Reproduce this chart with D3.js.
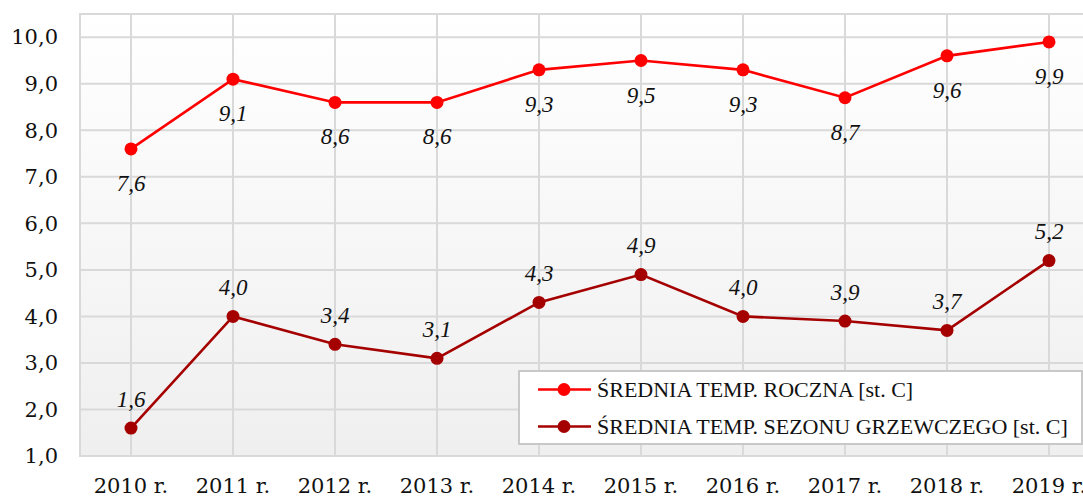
<!DOCTYPE html>
<html>
<head>
<meta charset="utf-8">
<script src="https://cdn.jsdelivr.net/npm/d3@7"></script>
<style>
  body { margin: 0; background: #fff; }
  svg text { font-family: "DejaVu Serif", serif; fill: #111; }
  svg text.lbl, svg text.leg { font-family: "Liberation Serif", serif; }
</style>
</head>
<body>
<div id="chart"></div>
<script>
const years = ['2010 r.', '2011 r.', '2012 r.', '2013 r.', '2014 r.', '2015 r.', '2016 r.', '2017 r.', '2018 r.', '2019 r.']
const annualTemp = [7.6, 9.1, 8.6, 8.6, 9.3, 9.5, 9.3, 8.7, 9.6, 9.9]
const heatingTemp = [1.6, 4.0, 3.4, 3.1, 4.3, 4.9, 4.0, 3.9, 3.7, 5.2]
const yTicks = [1, 2, 3, 4, 5, 6, 7, 8, 9, 10]
const seriesNames = ['ŚREDNIA TEMP. ROCZNA [st. C]', 'ŚREDNIA TEMP. SEZONU GRZEWCZEGO [st. C]']

const width = 1083, height = 498
const plotLeft = 80, plotTop = 14, plotBottom = 456, plotRight = 1100

let svg = d3.select('#chart').append('svg')
  .attr('width', width)
  .attr('height', height)

// plot background gradient
let grad = svg.append('defs').append('linearGradient')
  .attr('id', 'bg')
  .attr('x1', 0).attr('y1', 0).attr('x2', 0).attr('y2', 1)
grad.append('stop').attr('offset', '0%').attr('stop-color', '#ffffff')
grad.append('stop').attr('offset', '100%').attr('stop-color', '#efefef')

let x = d3.scaleBand().domain(years).range([plotLeft, plotRight])
let y = d3.scaleLinear().domain([1, 10.5]).range([plotBottom, plotTop])
let cx = d => x(d) + x.bandwidth() / 2

svg.append('rect')
  .attr('x', plotLeft).attr('y', plotTop)
  .attr('width', plotRight - plotLeft).attr('height', plotBottom - plotTop)
  .attr('fill', 'url(#bg)')

// gridlines
let grid = svg.append('g').attr('stroke', '#d9d9d9').attr('stroke-width', 2)
grid.selectAll('line.h')
  .data(yTicks.concat([10.5]))
  .enter().append('line')
  .attr('x1', plotLeft).attr('x2', plotRight)
  .attr('y1', d => y(d)).attr('y2', d => y(d))
grid.selectAll('line.v')
  .data(years)
  .enter().append('line')
  .attr('x1', d => cx(d)).attr('x2', d => cx(d))
  .attr('y1', plotTop).attr('y2', plotBottom)
grid.append('line')
  .attr('x1', plotLeft).attr('x2', plotLeft)
  .attr('y1', plotTop - 1).attr('y2', plotBottom + 1)

const fmt = v => d3.format('.1f')(v).replace('.', ',')

// axis labels
let yAxis = svg.append('g')
  .attr('transform', `translate(${plotLeft - 22},0)`)
  .call(d3.axisLeft(y).tickValues(yTicks).tickFormat(fmt).tickSize(0).tickPadding(0))
yAxis.select('.domain').remove()
yAxis.selectAll('text')
  .style('font-size', '21px')
  .attr('fill', '#111')

let xAxis = svg.append('g')
  .attr('transform', `translate(0,${plotBottom})`)
  .call(d3.axisBottom(x).tickSize(0).tickPadding(22))
xAxis.select('.domain').remove()
xAxis.selectAll('text')
  .style('font-size', '21px')
  .attr('fill', '#111')

function drawSeries(values, color, labelDy) {
  let pts = years.map((d, i) => [cx(d), y(values[i])])
  svg.append('path')
    .attr('d', d3.line()(pts))
    .attr('fill', 'none')
    .attr('stroke', color)
    .attr('stroke-width', 2.6)
  svg.append('g').selectAll('circle')
    .data(pts)
    .enter().append('circle')
    .attr('cx', d => d[0]).attr('cy', d => d[1])
    .attr('r', 6.5)
    .attr('fill', color)
  svg.append('g').selectAll('text')
    .data(values)
    .enter().append('text')
    .attr('class', 'lbl')
    .attr('x', (d, i) => cx(years[i]))
    .attr('y', d => y(d) + labelDy)
    .attr('text-anchor', 'middle')
    .style('font-size', '23px')
    .style('font-style', 'italic')
    .text(d => fmt(d))
}

drawSeries(annualTemp, '#ff0000', 42)
drawSeries(heatingTemp, '#a50000', -21.5)

// legend
let legend = svg.append('g')
legend.append('rect')
  .attr('x', 519).attr('y', 371)
  .attr('width', 563).attr('height', 73)
  .attr('fill', '#fff')
  .attr('stroke', '#c4c4c4')
  .attr('stroke-width', 1.8)
let colors = ['#ff0000', '#a50000']
seriesNames.forEach((name, i) => {
  let ly = 389.5 + i * 37
  legend.append('line')
    .attr('x1', 538).attr('x2', 591)
    .attr('y1', ly).attr('y2', ly)
    .attr('stroke', colors[i]).attr('stroke-width', 2.6)
  legend.append('circle')
    .attr('cx', 564).attr('cy', ly).attr('r', 6.5)
    .attr('fill', colors[i])
  legend.append('text')
    .attr('class', 'leg')
    .attr('x', 597).attr('y', ly)
    .attr('dy', '0.35em')
    .style('font-size', '22px')
    .text(name)
})
</script>
</body>
</html>
